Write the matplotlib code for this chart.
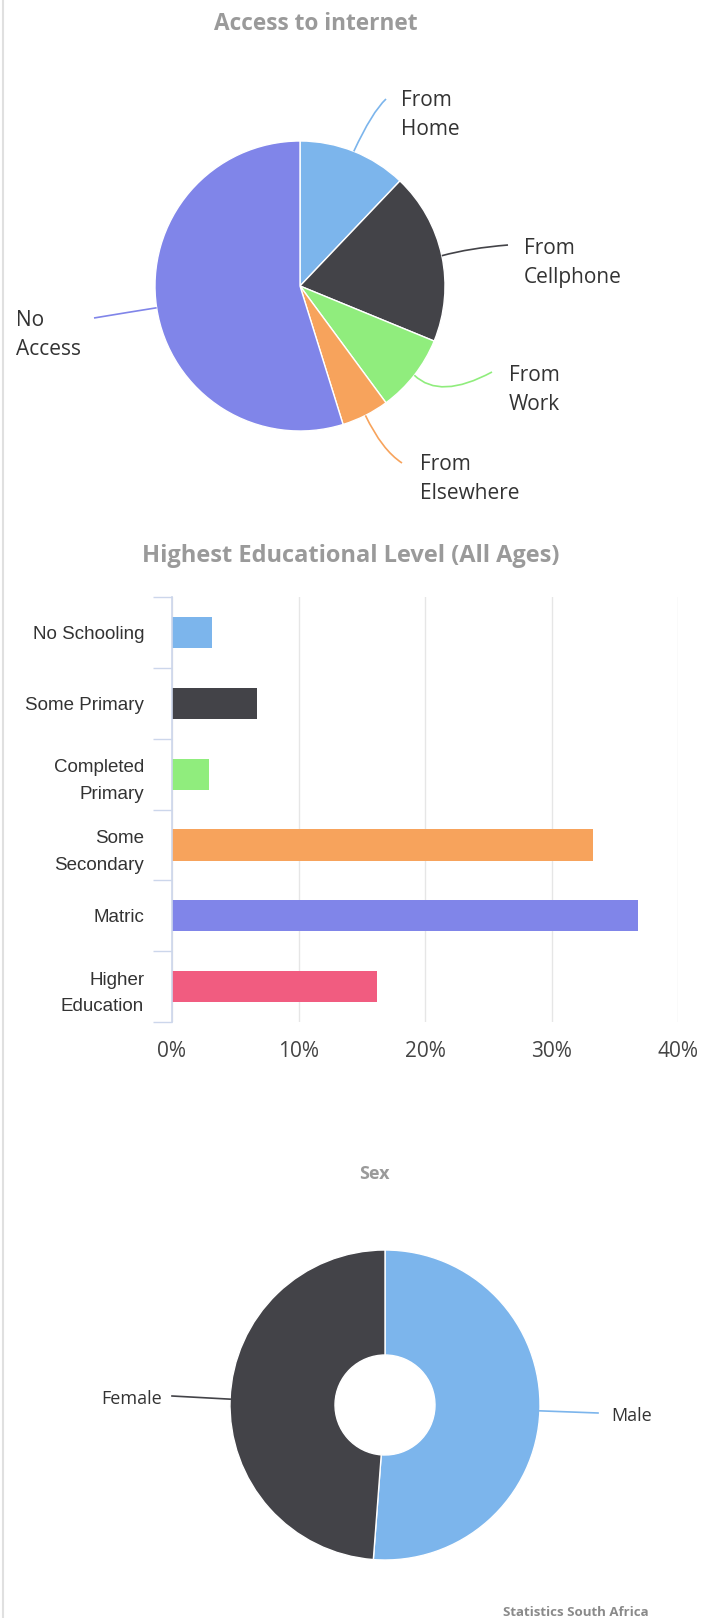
import numpy as np
import matplotlib
matplotlib.use('Agg')
import matplotlib.pyplot as plt
from matplotlib.path import Path
import matplotlib.patches as patches

plt.rcParams['font.family'] = ['Open Sans', 'DejaVu Sans']

# internet access shares (%)
access_labels = ['From\nHome', 'From\nCellphone', 'From\nWork', 'From\nElsewhere', 'No\nAccess']
access_values = [12.1, 19.1, 8.7, 5.3, 54.8]
access_colors = ['#7cb5ec', '#434348', '#90ed7d', '#f7a35c', '#8085e9']

# highest education level (%)
edu_levels = ['No Schooling', 'Some Primary', 'Completed\nPrimary', 'Some\nSecondary', 'Matric', 'Higher\nEducation']
edu_values = [3.2, 6.7, 2.9, 33.3, 36.8, 16.2]
edu_colors = ['#7cb5ec', '#434348', '#90ed7d', '#f7a35c', '#8085e9', '#f15c80']
edu_ticks = [0, 10, 20, 30, 40]

# sex split (%)
sex_labels = ['Male', 'Female']
sex_values = [51.2, 48.8]
sex_colors = ['#7cb5ec', '#434348']

W, H = 701, 1618
TITLE_GREY = '#9a9a9a'
TEXT = '#333333'


def fy(py):
    # page pixels are counted from the top, the canvas from the bottom
    return H - py


def mid_edge(w, cx, cy, r):
    ang = np.deg2rad((w.theta1 + w.theta2) / 2.0)
    return cx + r * np.cos(ang), cy + r * np.sin(ang)


def connector(ax, p0, ctrl, p1, color):
    path = Path([p0, ctrl, p1], [Path.MOVETO, Path.CURVE3, Path.CURVE3])
    ax.add_patch(patches.PathPatch(path, facecolor='none', edgecolor=color, lw=1.2))


fig = plt.figure(figsize=(W / 100, H / 100), dpi=100, facecolor='white')
canvas = fig.add_axes([0, 0, 1, 1])

# --- Access to internet pie ---
pie_c = (300, fy(286))
pie_r = 145
wedges, _ = canvas.pie(access_values, colors=access_colors, startangle=90, counterclock=False,
                       center=pie_c, radius=pie_r,
                       wedgeprops=dict(edgecolor='white', linewidth=1))

# label anchor (left x, middle y), bend point and connector end, in page pixels
pie_label_pos = [(401, 115), (524, 263), (509, 390), (420, 479), (16, 335)]
pie_ctrl = [(372, 112), (470, 248), (440, 400), (382, 450), (130, 312)]
pie_end = [(386, 99), (508, 245), (492, 372), (402, 463), (94, 318)]

for w, lab, col, pos, ctrl, end in zip(wedges, access_labels, access_colors, pie_label_pos, pie_ctrl, pie_end):
    start = mid_edge(w, pie_c[0], pie_c[1], pie_r)
    connector(canvas, start, (ctrl[0], fy(ctrl[1])), (end[0], fy(end[1])), col)
    canvas.text(pos[0], fy(pos[1]), lab, ha='left', va='center', fontsize=15,
                color=TEXT, linespacing=1.5)

canvas.text(316, fy(24), 'Access to internet', ha='center', va='center',
            fontsize=16.3, fontweight='bold', color=TITLE_GREY)

# --- Sex donut ---
don_c = (385, fy(1405))
don_r = 155
dw, _ = canvas.pie(sex_values, colors=sex_colors, startangle=90, counterclock=False,
                   center=don_c, radius=don_r,
                   wedgeprops=dict(width=105, edgecolor='white', linewidth=1))

don_end = [(598, 1413), (172, 1396)]
don_text = [(611, 1416, 'left'), (162, 1399, 'right')]
for w, lab, col, end, (tx, ty, ha) in zip(dw, sex_labels, sex_colors, don_end, don_text):
    sx, sy = mid_edge(w, don_c[0], don_c[1], don_r)
    canvas.plot([sx, end[0]], [sy, fy(end[1])], color=col, lw=1.2)
    canvas.text(tx, fy(ty), lab, ha=ha, va='center', fontsize=13, color=TEXT)

canvas.text(374, fy(1174), 'Sex', ha='center', va='center', fontsize=13,
            fontweight='bold', color=TITLE_GREY)
canvas.text(576, fy(1612), 'Statistics South Africa', ha='center', va='center',
            fontsize=9.5, fontweight='bold', color='#8a8a8a')

# thin page border on the left
canvas.plot([2.5, 2.5], [0, H], color='#e0e0e0', lw=1.5)

canvas.set_xlim(0, W)
canvas.set_ylim(0, H)
canvas.set_aspect('auto')
canvas.axis('off')

# --- Highest educational level bars ---
bax = fig.add_axes([172 / W, (H - 1022) / H, (678 - 172) / W, (1022 - 597) / H])
ypos = np.arange(len(edu_levels))
bax.barh(ypos, edu_values, height=0.44, color=edu_colors)
bax.set_xlim(0, 40)
bax.set_ylim(len(edu_levels) - 0.5, -0.5)
bax.set_xticks(edu_ticks)
bax.set_xticklabels(['%d%%' % t for t in edu_ticks], fontsize=15, color='#444444')
bax.set_yticks(ypos)
bax.set_yticklabels(edu_levels, family=['Liberation Sans', 'DejaVu Sans'], fontsize=13.5,
                    color=TEXT, linespacing=1.75)
bax.set_yticks(np.arange(-0.5, len(edu_levels)), minor=True)
bax.tick_params(axis='x', length=0, pad=14)
bax.tick_params(axis='y', which='major', length=0, pad=20)
bax.tick_params(axis='y', which='minor', length=13.7, width=1, color='#ccd6eb')
bax.grid(axis='x', color='#e6e6e6', lw=1)
bax.set_axisbelow(True)
for s in ['top', 'right', 'bottom']:
    bax.spines[s].set_visible(False)
bax.spines['left'].set_color('#ccd6eb')
bax.spines['left'].set_linewidth(1.2)

fig.text(351 / W, 1 - 556 / H, 'Highest Educational Level (All Ages)', ha='center', va='center',
         fontsize=17, fontweight='bold', color=TITLE_GREY)

fig.savefig('out.png', dpi=100)
